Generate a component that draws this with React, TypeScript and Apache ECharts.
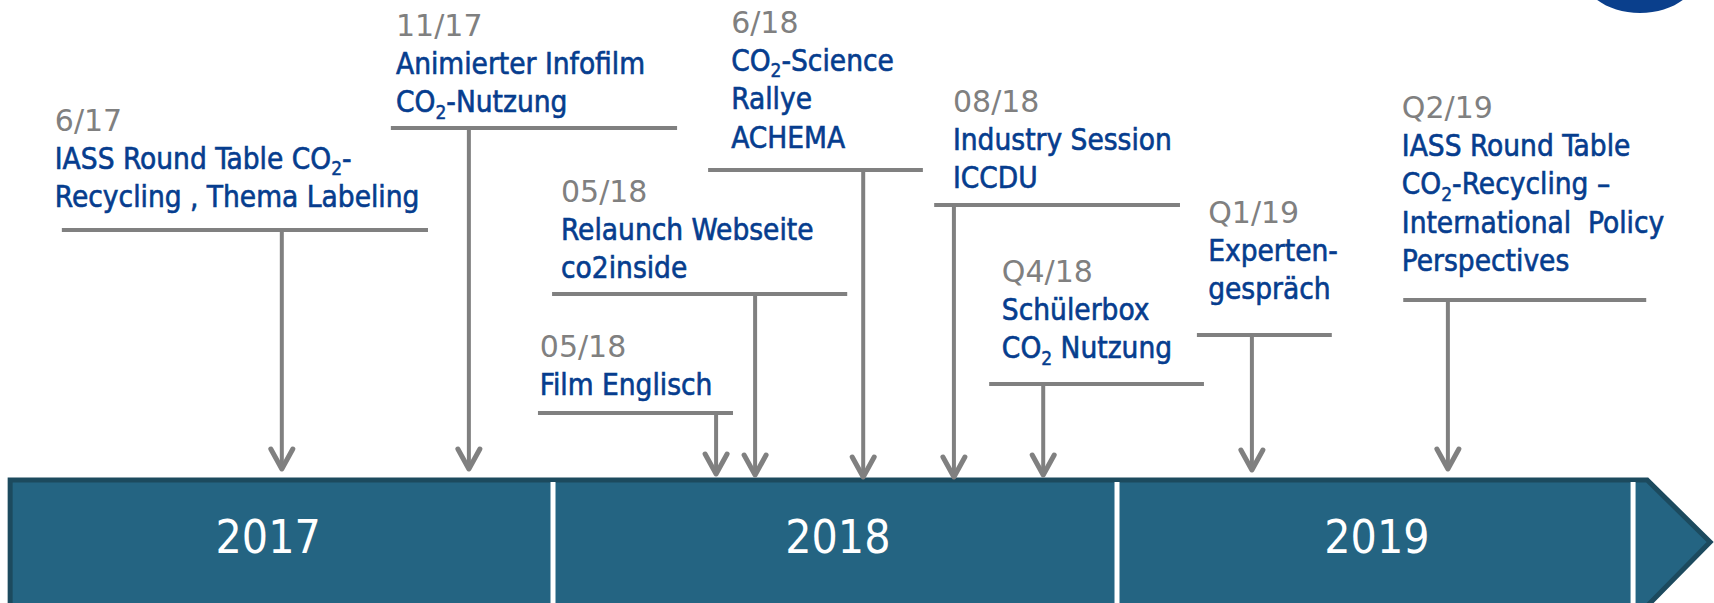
import React, { useEffect, useRef } from "react";
import * as echarts from "echarts";

// x: months since January 2017 (timeline position), y: height above the timeline bar
const YEARS = ["2017", "2018", "2019"];
const YEAR_LABEL_POS = [5.94, 18.06, 29.53];
const YEAR_LABEL_LEVEL = -59;
const YEAR_DIVIDERS = [12, 24, 34.98];
const BAR_EXTENT = [0.45, 35.28, 36.62]; // start, body end, arrow tip
const BAR_LEVELS = [-2, -64, -128]; // top, middle (tip), bottom

const EVENT_DATES = ["6/17", "11/17", "6/18", "05/18", "05/18", "08/18", "Q4/18", "Q1/19", "Q2/19"];
const EVENT_TITLES = [
  ["IASS Round Table CO₂-", "Recycling , Thema Labeling"],
  ["Animierter Infofilm", "CO₂-Nutzung"],
  ["CO₂-Science", "Rallye", "ACHEMA"],
  ["Relaunch Webseite", "co2inside"],
  ["Film Englisch"],
  ["Industry Session", "ICCDU"],
  ["Schülerbox", "CO₂ Nutzung"],
  ["Experten-", "gespräch"],
  ["IASS Round Table", "CO₂-Recycling –", "International  Policy", "Perspectives"],
];
const EVENT_POS = [6.23, 10.21, 18.6, 16.3, 15.47, 20.53, 22.43, 26.87, 31.04];
const LABEL_POS = [1.4, 8.66, 15.79, 12.17, 11.72, 20.51, 21.55, 25.94, 30.06];
const LABEL_LEVEL = [358, 453, 456, 287, 132, 377, 207, 266, 371];
const SHELF_LEVEL = [248, 350, 308, 184, 65, 273, 94, 143, 178];
const SHELF_START = [1.55, 8.55, 15.3, 11.98, 11.68, 20.11, 21.28, 25.7, 30.09];
const SHELF_END = [9.34, 14.64, 19.87, 18.26, 15.83, 25.34, 25.85, 28.57, 35.26];
const ARROW_END = [6, 6, -2, 0, 1, -2, 0, 5, 6];

const X_RANGE = [0.234, 36.702];
const Y_RANGE = [-125, 478];

const GREY = "#808080";
const BLUE = "#063d8e";
const BAR_FILL = "#246482";
const BAR_EDGE = "#1c4a5e";
const TITLE_FONT = "'DejaVu Sans Condensed', 'DejaVu Sans', sans-serif";
const DATE_FONT = "'DejaVu Sans', sans-serif";

const toRich = (line: string) => line.replace(/₂/g, "{s|2}");

export default function App() {
  const ref = useRef<HTMLDivElement>(null);

  useEffect(() => {
    document.body.style.margin = "0";
    document.body.style.overflow = "hidden";
    if (!ref.current) return;
    const chart = echarts.init(ref.current, null, { renderer: "svg" });

    const eventData = EVENT_POS.map((p, i) => [
      p,
      SHELF_LEVEL[i],
      SHELF_START[i],
      SHELF_END[i],
      ARROW_END[i],
      LABEL_POS[i],
      LABEL_LEVEL[i],
    ]);

    chart.setOption({
      animation: false,
      backgroundColor: "#ffffff",
      grid: { left: 0, right: 0, top: 0, bottom: 0 },
      xAxis: { type: "value", min: X_RANGE[0], max: X_RANGE[1], show: false },
      yAxis: { type: "value", min: Y_RANGE[0], max: Y_RANGE[1], show: false },
      graphic: [
        {
          type: "ellipse",
          shape: { cx: 1640, cy: -27, rx: 58, ry: 40 },
          style: { fill: "#0a3f8c" },
          silent: true,
        },
      ],
      series: [
        {
          type: "custom",
          name: "bar",
          data: [[BAR_EXTENT[0], BAR_LEVELS[0]]],
          renderItem: (params: any, api: any) => {
            const a = api.coord([BAR_EXTENT[0], BAR_LEVELS[0]]);
            const b = api.coord([BAR_EXTENT[1], BAR_LEVELS[0]]);
            const t = api.coord([BAR_EXTENT[2], BAR_LEVELS[1]]);
            const c = api.coord([BAR_EXTENT[1], BAR_LEVELS[2]]);
            const d = api.coord([BAR_EXTENT[0], BAR_LEVELS[2]]);
            return {
              type: "polygon",
              shape: { points: [a, b, t, c, d] },
              style: { fill: BAR_FILL, stroke: BAR_EDGE, lineWidth: 5, lineJoin: "miter" },
            };
          },
          z: 1,
        },
        {
          type: "custom",
          name: "dividers",
          data: YEAR_DIVIDERS.map((d) => [d, -4]),
          renderItem: (params: any, api: any) => {
            const top = api.coord([api.value(0), -4]);
            const bot = api.coord([api.value(0), BAR_LEVELS[2]]);
            return {
              type: "line",
              shape: { x1: top[0], y1: top[1], x2: bot[0], y2: bot[1] },
              style: { stroke: "#ffffff", lineWidth: 5 },
            };
          },
          z: 2,
        },
        {
          type: "custom",
          name: "years",
          data: YEAR_LABEL_POS.map((p) => [p, YEAR_LABEL_LEVEL]),
          renderItem: (params: any, api: any) => {
            const p = api.coord([api.value(0), api.value(1)]);
            return {
              type: "text",
              x: p[0],
              y: p[1],
              style: {
                text: YEARS[params.dataIndex],
                fill: "#ffffff",
                fontSize: 46,
                fontFamily: TITLE_FONT,
                align: "center",
                verticalAlign: "middle",
              },
            };
          },
          z: 3,
        },
        {
          type: "custom",
          name: "events",
          data: eventData,
          renderItem: (params: any, api: any) => {
            const i = params.dataIndex;
            const stemTop = api.coord([api.value(0), api.value(1)]);
            const stemEnd = api.coord([api.value(0), api.value(4)]);
            const shelfA = api.coord([api.value(2), api.value(1)]);
            const shelfB = api.coord([api.value(3), api.value(1)]);
            const label = api.coord([api.value(5), api.value(6)]);
            const tx = stemEnd[0];
            const ty = stemEnd[1];
            return {
              type: "group",
              children: [
                {
                  type: "line",
                  shape: { x1: shelfA[0], y1: shelfA[1], x2: shelfB[0], y2: shelfB[1] },
                  style: { stroke: GREY, lineWidth: 4 },
                },
                {
                  type: "line",
                  shape: { x1: stemTop[0], y1: stemTop[1], x2: tx, y2: ty - 3 },
                  style: { stroke: GREY, lineWidth: 4 },
                },
                {
                  type: "polyline",
                  shape: {
                    points: [
                      [tx - 11, ty - 23],
                      [tx, ty - 3],
                      [tx + 11, ty - 23],
                    ],
                  },
                  style: {
                    stroke: GREY,
                    fill: "none",
                    lineWidth: 5,
                    lineCap: "round",
                    lineJoin: "round",
                  },
                },
                {
                  type: "text",
                  x: label[0],
                  y: label[1],
                  style: {
                    text: EVENT_DATES[i],
                    fill: GREY,
                    fontSize: 30,
                    fontFamily: DATE_FONT,
                    align: "left",
                    verticalAlign: "middle",
                  },
                },
                {
                  type: "text",
                  x: label[0],
                  y: label[1] + 19.25,
                  style: {
                    text: EVENT_TITLES[i].map(toRich).join("\n"),
                    fill: BLUE,
                    stroke: BLUE,
                    lineWidth: 0.6,
                    fontSize: 29.5,
                    lineHeight: 38.5,
                    fontFamily: TITLE_FONT,
                    align: "left",
                    verticalAlign: "top",
                    rich: {
                      s: {
                        fontSize: 19,
                        lineHeight: 19,
                        verticalAlign: "bottom",
                        fill: BLUE,
                        stroke: BLUE,
                        lineWidth: 0.5,
                        fontFamily: TITLE_FONT,
                      },
                    },
                  },
                },
              ],
            };
          },
          z: 4,
        },
      ],
    });

    return () => chart.dispose();
  }, []);

  return <div ref={ref} style={{ width: 1714, height: 603 }} />;
}
